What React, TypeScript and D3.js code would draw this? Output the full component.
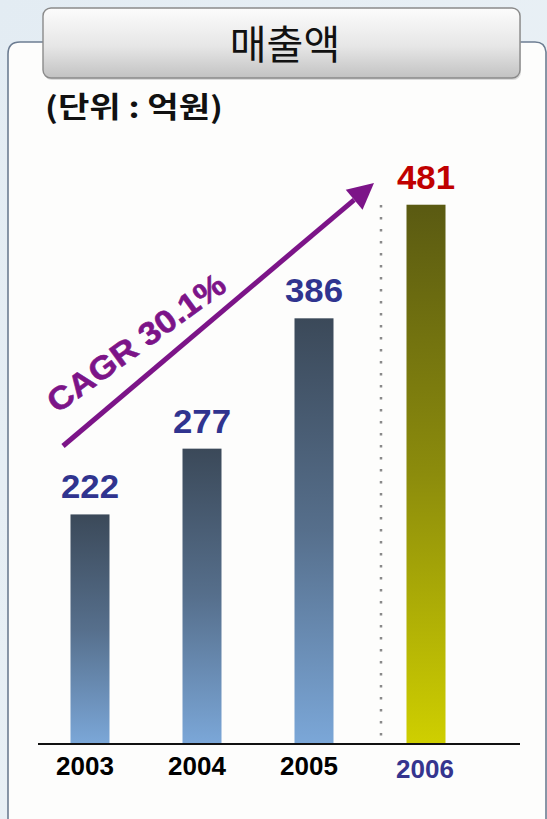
import React from "react";
import * as d3 from "d3";

const years = ["2003", "2004", "2005", "2006"];
const sales = [222, 277, 386, 481];
const highlight = [false, false, false, true];
const title = "매출액";
const unitLabel = "(단위 : 억원)";
const cagrLabel = "CAGR 30.1%";

const W = 547;
const H = 819;
const baseY = 744;

export default function App() {
  const x = d3.scalePoint<string>().domain(years).range([90, 426]);
  const y = d3.scaleLinear().domain([30, 500]).range([baseY, 182]);
  const bw = 39;

  // arrow annotation
  const ax0 = 63, ay0 = 446, ax1 = 374, ay1 = 183;
  const len = Math.hypot(ax1 - ax0, ay1 - ay0);
  const ux = (ax1 - ax0) / len, uy = (ay1 - ay0) / len;
  const hl = 26, hw = 13;
  const bx = ax1 - ux * hl, by = ay1 - uy * hl;
  const head = [
    [ax1, ay1],
    [bx - uy * hw, by + ux * hw],
    [bx + uy * hw, by - ux * hw],
  ];
  const headPath = d3.line()(head as [number, number][]) + "Z";

  const framePath = `M8,${H + 5} V54 Q8,42 20,42 H535 Q545,42 546,52 V${H + 5}`;

  return (
    <svg
      width={W}
      height={H}
      style={{ position: "fixed", left: 0, top: 0, display: "block" }}
      fontFamily="'Liberation Sans', Arial, sans-serif"
    >
      <defs>
        <linearGradient id="gBlue" x1="0" y1="0" x2="0" y2="1">
          <stop offset="0" stopColor="#3b4959" />
          <stop offset="0.5" stopColor="#566f8c" />
          <stop offset="1" stopColor="#7ba7d8" />
        </linearGradient>
        <linearGradient id="gOlive" x1="0" y1="0" x2="0" y2="1">
          <stop offset="0" stopColor="#5a5a12" />
          <stop offset="0.5" stopColor="#8c8c0c" />
          <stop offset="1" stopColor="#cfcf00" />
        </linearGradient>
        <linearGradient id="gTitle" x1="0" y1="0" x2="0" y2="1">
          <stop offset="0" stopColor="#fcfcfc" />
          <stop offset="0.55" stopColor="#e6e6e6" />
          <stop offset="1" stopColor="#c2c2c2" />
        </linearGradient>
        <linearGradient id="gBg" x1="0" y1="0" x2="1" y2="1">
          <stop offset="0" stopColor="#e3ecf3" />
          <stop offset="1" stopColor="#edf3f7" />
        </linearGradient>
      </defs>

      <rect x={0} y={0} width={W} height={H} fill="url(#gBg)" />
      <path d={framePath + "Z"} fill="#fdfdfc" stroke="none" />
      <path d={framePath} fill="none" stroke="#6d7d92" strokeWidth={1.6} />

      {/* title box */}
      <rect x={44} y={10} width={477} height={70} rx={8} fill="#b9b9b9" opacity={0.5} />
      <rect x={43} y={8} width={477} height={70} rx={8} fill="url(#gTitle)" stroke="#8a8a8a" strokeWidth={1.4} />
      <text
        x={285}
        y={59}
        textAnchor="middle"
        fontFamily="'Noto Sans CJK KR', sans-serif"
        fontSize={40}
        fill="#111"
      >
        {title}
      </text>

      <text
        x={45}
        y={118}
        fontFamily="'Noto Sans CJK KR', sans-serif"
        fontWeight={700}
        fontSize={29}
        fill="#111"
        textLength={178}
        lengthAdjust="spacingAndGlyphs"
      >
        {unitLabel}
      </text>

      {/* dotted separator */}
      <line x1={381} x2={381} y1={205} y2={baseY - 4} stroke="#8a8a8a" strokeWidth={2.5} strokeDasharray="2.5 9.5" />

      {/* bars */}
      {years.map((yr, i) => (
        <rect
          key={yr}
          x={(x(yr) as number) - bw / 2}
          y={y(sales[i])}
          width={bw}
          height={baseY - y(sales[i])}
          fill={highlight[i] ? "url(#gOlive)" : "url(#gBlue)"}
        />
      ))}

      {/* value labels */}
      {years.map((yr, i) => (
        <text
          key={"v" + yr}
          x={x(yr) as number}
          y={y(sales[i]) - 16}
          textAnchor="middle"
          fontWeight={700}
          fontSize={34}
          fill={highlight[i] ? "#c00000" : "#30348f"}
          textLength={58}
          lengthAdjust="spacingAndGlyphs"
        >
          {sales[i]}
        </text>
      ))}

      {/* axis */}
      <line x1={38} x2={520} y1={baseY} y2={baseY} stroke="#111" strokeWidth={2} />
      {years.map((yr, i) => (
        <text
          key={"x" + yr}
          x={(x(yr) as number) - (highlight[i] ? 1 : 5)}
          y={highlight[i] ? 778 : 775}
          textAnchor="middle"
          fontWeight={700}
          fontSize={26}
          fill={highlight[i] ? "#35358f" : "#000"}
        >
          {yr}
        </text>
      ))}

      {/* CAGR arrow */}
      <line x1={ax0} y1={ay0} x2={bx} y2={by} stroke="#7c1488" strokeWidth={5} />
      <path d={headPath} fill="#7c1488" />
      <text
        x={0}
        y={0}
        transform={`translate(57,414) rotate(-36)`}
        fontWeight={700}
        fontSize={32}
        fill="#7c1488"
        stroke="#7c1488"
        strokeWidth={0.6}
        textLength={212}
        lengthAdjust="spacingAndGlyphs"
      >
        {cagrLabel}
      </text>
    </svg>
  );
}
